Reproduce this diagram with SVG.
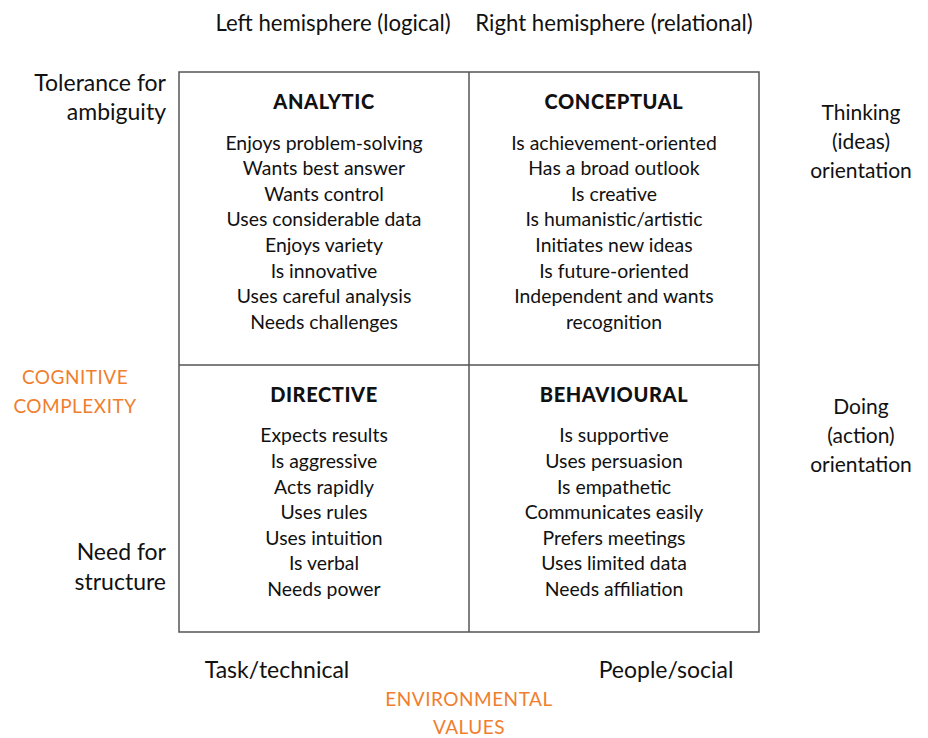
<svg xmlns="http://www.w3.org/2000/svg" width="928" height="738" viewBox="0 0 928 738">
  <style>
    text { font-family: Lato, "Open Sans", "Liberation Sans", sans-serif; fill: #111; }
    .body { font-size: 19.4px; text-anchor: middle; }
    .head { font-size: 20px; font-weight: 900; text-anchor: middle; letter-spacing: 0.6px; }
    .axis { font-size: 21px; }
    .big { font-size: 23px; }
    .top { font-size: 22.2px; }
    .mid { text-anchor: middle; }
    .end { text-anchor: end; }
    .accent { fill: #F07E2E; font-size: 19px; text-anchor: middle; letter-spacing: 0.5px; }
    .grid { fill: none; stroke: #555; stroke-width: 1.5; }
  </style>
  <rect width="928" height="738" fill="#fff"/>

  <!-- axis labels -->
  <g id="axis-top">
    <text class="axis top mid" x="333" y="31">Left hemisphere (logical)</text>
    <text class="axis top mid" x="614" y="31">Right hemisphere (relational)</text>
  </g>
  <g id="axis-left">
    <text class="axis big end" x="166" y="91">Tolerance for</text>
    <text class="axis big end" x="166" y="120">ambiguity</text>
    <text class="axis big end" x="166" y="560">Need for</text>
    <text class="axis big end" x="166" y="590">structure</text>
  </g>
  <g id="axis-right">
    <text class="axis mid" x="861" y="120">Thinking</text>
    <text class="axis mid" x="861" y="149">(ideas)</text>
    <text class="axis mid" x="861" y="178">orientation</text>
    <text class="axis mid" x="861" y="414">Doing</text>
    <text class="axis mid" x="861" y="443">(action)</text>
    <text class="axis mid" x="861" y="472">orientation</text>
  </g>
  <g id="axis-bottom">
    <text class="axis big mid" x="277" y="678">Task/technical</text>
    <text class="axis big mid" x="666" y="678">People/social</text>
  </g>
  <g id="cognitive-complexity">
    <text class="accent" x="75" y="384">COGNITIVE</text>
    <text class="accent" x="75" y="413">COMPLEXITY</text>
  </g>
  <g id="environmental-values">
    <text class="accent" x="469" y="706">ENVIRONMENTAL</text>
    <text class="accent" x="469" y="734">VALUES</text>
  </g>

  <!-- quadrant grid -->
  <g id="grid">
    <rect class="grid" x="179" y="72" width="580" height="560"/>
    <line class="grid" x1="469" y1="72" x2="469" y2="632"/>
    <line class="grid" x1="179" y1="365" x2="759" y2="365"/>
  </g>

  <g id="analytic">
    <text class="head" x="324" y="109">ANALYTIC</text>
    <text class="body" x="324" y="150">Enjoys problem-solving</text>
    <text class="body" x="324" y="175">Wants best answer</text>
    <text class="body" x="324" y="201">Wants control</text>
    <text class="body" x="324" y="226">Uses considerable data</text>
    <text class="body" x="324" y="252">Enjoys variety</text>
    <text class="body" x="324" y="278">Is innovative</text>
    <text class="body" x="324" y="303">Uses careful analysis</text>
    <text class="body" x="324" y="329">Needs challenges</text>
  </g>

  <g id="conceptual">
    <text class="head" x="614" y="109">CONCEPTUAL</text>
    <text class="body" x="614" y="150">Is achievement-oriented</text>
    <text class="body" x="614" y="175">Has a broad outlook</text>
    <text class="body" x="614" y="201">Is creative</text>
    <text class="body" x="614" y="226">Is humanistic/artistic</text>
    <text class="body" x="614" y="252">Initiates new ideas</text>
    <text class="body" x="614" y="278">Is future-oriented</text>
    <text class="body" x="614" y="303">Independent and wants</text>
    <text class="body" x="614" y="329">recognition</text>
  </g>

  <g id="directive">
    <text class="head" x="324" y="402">DIRECTIVE</text>
    <text class="body" x="324" y="442">Expects results</text>
    <text class="body" x="324" y="468">Is aggressive</text>
    <text class="body" x="324" y="494">Acts rapidly</text>
    <text class="body" x="324" y="519">Uses rules</text>
    <text class="body" x="324" y="545">Uses intuition</text>
    <text class="body" x="324" y="570">Is verbal</text>
    <text class="body" x="324" y="596">Needs power</text>
  </g>

  <g id="behavioural">
    <text class="head" x="614" y="402">BEHAVIOURAL</text>
    <text class="body" x="614" y="442">Is supportive</text>
    <text class="body" x="614" y="468">Uses persuasion</text>
    <text class="body" x="614" y="494">Is empathetic</text>
    <text class="body" x="614" y="519">Communicates easily</text>
    <text class="body" x="614" y="545">Prefers meetings</text>
    <text class="body" x="614" y="570">Uses limited data</text>
    <text class="body" x="614" y="596">Needs affiliation</text>
  </g>
</svg>
